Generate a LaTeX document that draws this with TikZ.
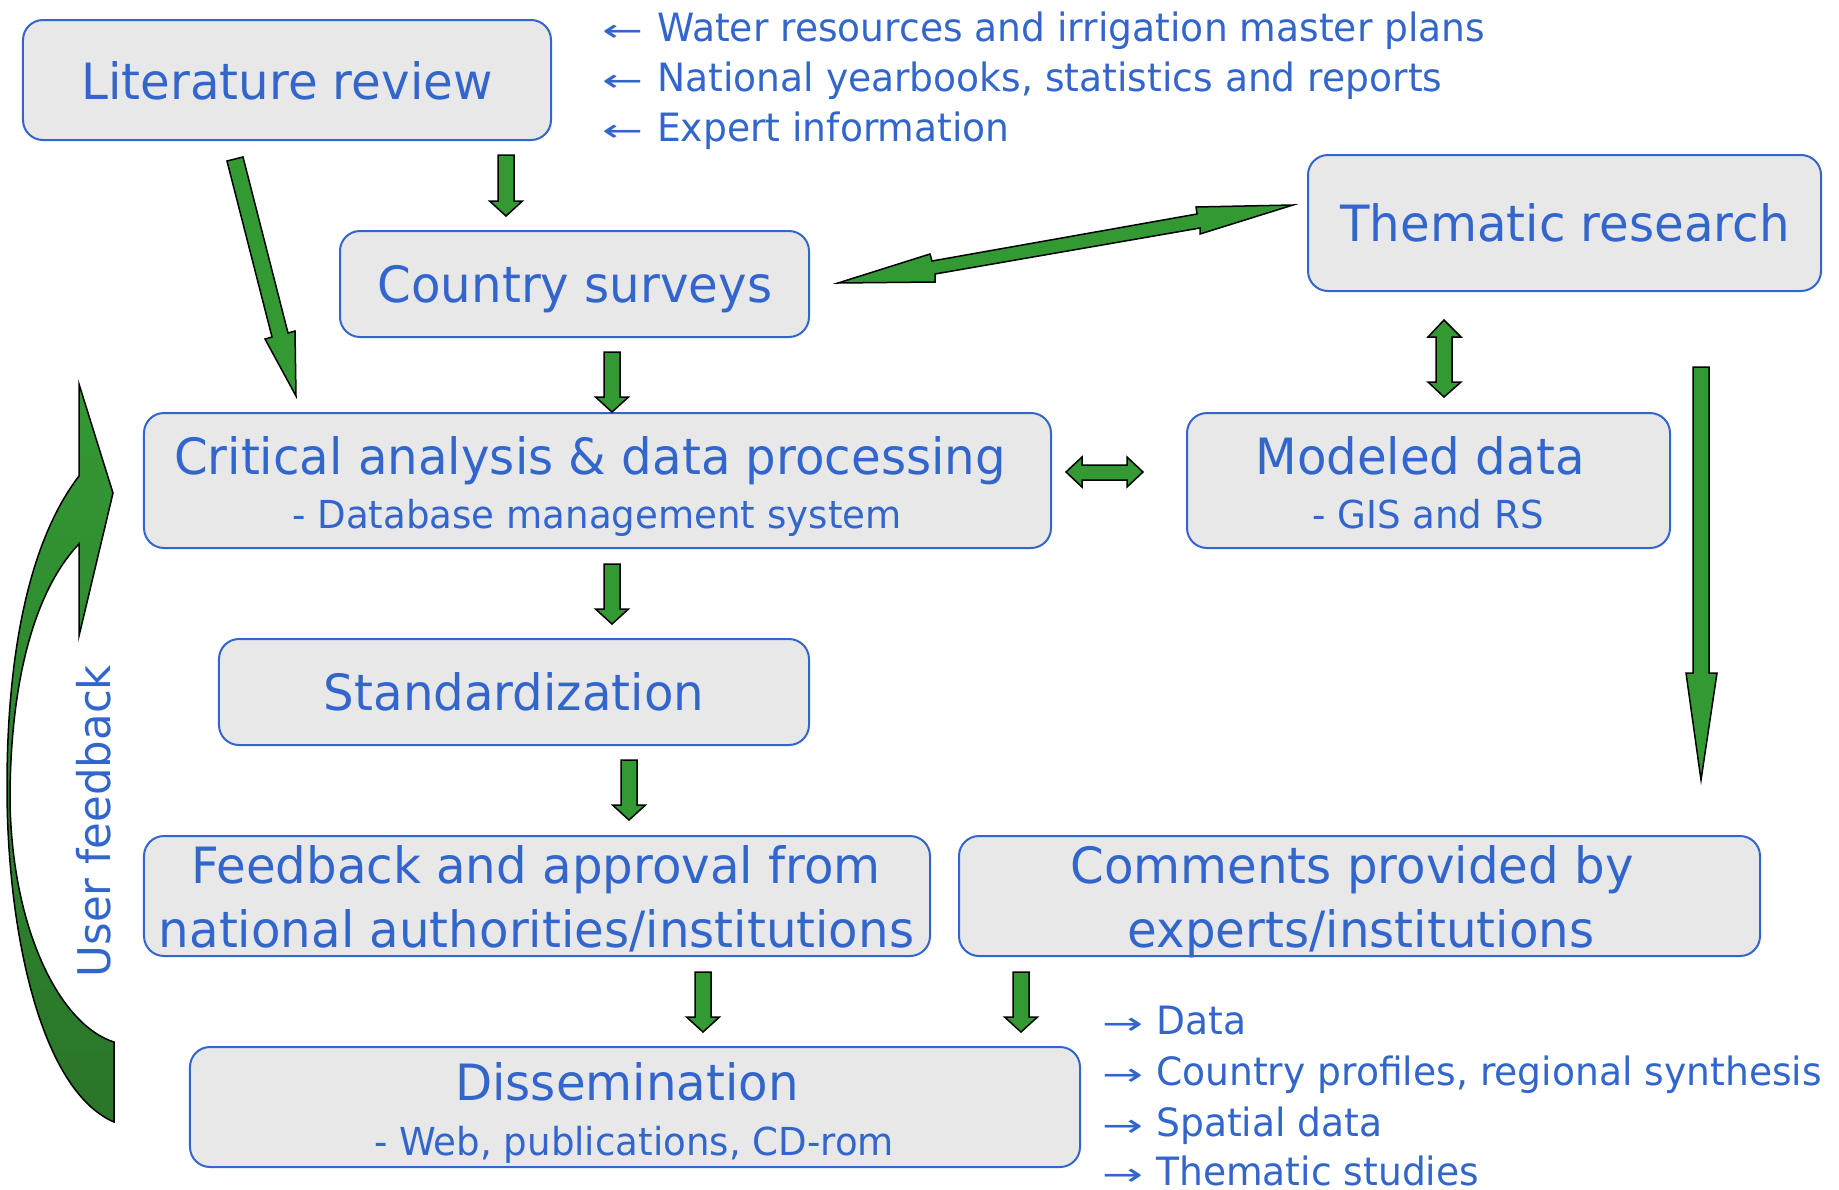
\documentclass[tikz,border=0pt]{standalone}
\usepackage{fontspec}
\setmainfont{DejaVu Sans}[FakeStretch=0.965]
\definecolor{txtblue}{HTML}{3366CC}
\definecolor{boxfill}{HTML}{E8E8E8}
\definecolor{agreen}{HTML}{339933}
\definecolor{dgreen}{HTML}{2A752A}
\newcommand\dnarr[3]{%
  \draw[blk] (#1-8,#2) -- (#1+8,#2) -- (#1+8,#3-15) -- (#1+16.5,#3-15) -- (#1,#3)
    -- (#1-16.5,#3-15) -- (#1-8,#3-15) -- cycle;}
\newcommand\larr{\makebox[55bp][l]{\scalebox{1.3}[0.8]{←}}}
\newcommand\rarr{\makebox[54bp][l]{\scalebox{1.3}[0.8]{→}}}
\begin{document}
\begin{tikzpicture}[x=1bp,y=-1bp,
  box/.style={draw=txtblue, line width=2bp, fill=boxfill, rounded corners=20bp, inner sep=0pt, outer sep=0pt},
  lbl/.style={anchor=base, inner sep=0pt, text=txtblue, font=\fontsize{50bp}{60bp}\selectfont},
  sublbl/.style={anchor=base, inner sep=0pt, text=txtblue, font=\fontsize{38.5bp}{46bp}\selectfont},
  side/.style={anchor=base west, inner sep=0pt, text=txtblue, font=\fontsize{39bp}{47bp}\selectfont},
  blk/.style={draw=black, line width=1.5bp, fill=agreen, line join=miter}]
\useasboundingbox (0,0) rectangle (1839,1189);

% boxes
\node[box, minimum width=528bp, minimum height=120bp] (lit) at (287,80) {};
\node[box, minimum width=469bp, minimum height=106bp] (country) at (574.5,284) {};
\node[box, minimum width=513bp, minimum height=136bp] (thematic) at (1564.5,223) {};
\node[box, minimum width=907bp, minimum height=135bp] (critical) at (597.5,480.5) {};
\node[box, minimum width=483bp, minimum height=135bp] (modeled) at (1428.5,480.5) {};
\node[box, minimum width=590bp, minimum height=106bp] (standard) at (514,692) {};
\node[box, minimum width=786bp, minimum height=120bp] (feedback) at (537,896) {};
\node[box, minimum width=801bp, minimum height=120bp] (comments) at (1359.5,896) {};
\node[box, minimum width=890bp, minimum height=120bp] (dissem) at (635,1107) {};

% box texts
\node[lbl] (lit-t) at (287,99) {Literature review};
\node[lbl] (country-t) at (575,302) {Country surveys};
\node[lbl] (thematic-t) at (1565,241) {Thematic research};
\node[lbl] (critical-t) at (590,474) {Critical analysis \& data processing};
\node[sublbl] (critical-s) at (597,528) {- Database management system};
\node[lbl] (modeled-t) at (1420,474) {Modeled data};
\node[sublbl] (modeled-s) at (1428,528) {- GIS and RS};
\node[lbl] (standard-t) at (514,710) {Standardization};
\node[lbl] (feedback-t1) at (536,883) {Feedback and approval from};
\node[lbl] (feedback-t2) at (536.5,947) {national authorities/institutions};
\node[lbl] (comments-t1) at (1352,883) {Comments provided by};
\node[lbl] (comments-t2) at (1361,947) {experts/institutions};
\node[lbl] (dissem-t) at (627,1100) {Dissemination};
\node[sublbl] (dissem-s) at (634,1155) {- Web, publications, CD-rom};

% source list
\node[side] (src1) at (602,41) {\larr Water resources and irrigation master plans};
\node[side] (src2) at (602,91) {\larr National yearbooks, statistics and reports};
\node[side] (src3) at (602,141) {\larr Expert information};

% output list
\node[side] (out1) at (1102,1034) {\rarr Data};
\node[side] (out2) at (1102,1085) {\rarr Country profiles, regional synthesis};
\node[side] (out3) at (1102,1136) {\rarr Spatial data};
\node[side] (out4) at (1102,1185) {\rarr Thematic studies};

% small down arrows
\dnarr{506}{155}{216}
\dnarr{612}{352}{412}
\dnarr{612}{564}{624}
\dnarr{629}{760}{820}
\dnarr{703}{972}{1032}
\dnarr{1021}{972}{1032}

% long down arrow thematic -> comments
\draw[blk] (1693,367) -- (1709,367) -- (1709,673) -- (1717,673) -- (1701,780)
  -- (1686,673) -- (1693,673) -- cycle;

% vertical double arrow thematic <-> modeled
\draw[blk] (1444,320) -- (1461,337) -- (1452,337) -- (1452,382) -- (1461,382) -- (1444,397)
  -- (1428,382) -- (1436,382) -- (1436,337) -- (1428,337) -- cycle;

% horizontal double arrow critical <-> modeled
\draw[blk] (1066,472) -- (1082,457) -- (1082,465) -- (1127,465) -- (1127,457) -- (1143,472)
  -- (1127,487) -- (1127,480) -- (1082,480) -- (1082,487) -- cycle;

% diagonal double arrow country <-> thematic
\draw[blk] (838,283) -- (930,254) -- (932,261) -- (1197,214) -- (1196,207) -- (1293,205)
  -- (1200,234) -- (1200,228) -- (935,274) -- (935,282) -- cycle;

% diagonal arrow literature -> critical
\draw[blk] (227,161) -- (243,157) -- (288,333) -- (295,331) -- (296,396)
  -- (265,339) -- (272,337) -- cycle;

% curved user feedback arrow
\draw[top color=agreen, bottom color=dgreen, draw=black, line width=1.5bp]
  (113,493) -- (79,384) -- (79,476)
  .. controls (30,540) and (7,650) .. (7,787)
  .. controls (7,930) and (40,1090) .. (114,1122)
  -- (114,1042)
  .. controls (60,1025) and (12,930) .. (10,801)
  .. controls (10,680) and (35,590) .. (79,544)
  -- (79,636) -- cycle;
\node[rotate=90, anchor=base, inner sep=0pt, text=txtblue, font=\fontsize{45bp}{54bp}\selectfont] (userfb) at (110,821) {User feedback};
\end{tikzpicture}
\end{document}
